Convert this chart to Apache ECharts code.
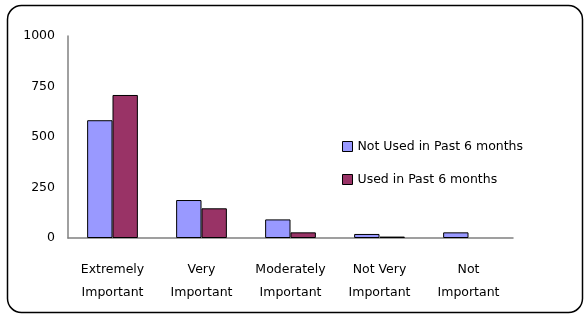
<!DOCTYPE html>
<html>
<head>
<meta charset="utf-8">
<script src="https://cdn.jsdelivr.net/npm/echarts@6/dist/echarts.min.js"></script>
<style>
  html, body { margin: 0; padding: 0; background: #fff; }
  #chart { width: 584px; height: 316px; }
</style>
</head>
<body>
<div id="chart"></div>
<script>
// importance ratings, two groups
const categories = ['Extremely\nImportant', 'Very\nImportant', 'Moderately\nImportant', 'Not Very\nImportant', 'Not\nImportant']
const notUsed = [583, 188, 92, 20, 28]
const used = [708, 147, 28, 7, 0]
const yTicks = [0, 250, 500, 750, 1000]

const font = 'DejaVu Sans'
const chart = echarts.init(document.getElementById('chart'))

// zero-height bars are not drawn at all in the original
const toBars = arr => arr.map(v => (v === 0 ? '-' : v))

chart.setOption({
  animation: false,
  textStyle: { fontFamily: font },
  graphic: [{
    type: 'rect',
    shape: { x: 7.5, y: 5.5, width: 575, height: 307, r: 14 },
    style: { fill: 'none', stroke: '#000', lineWidth: 1.5 }
  }],
  grid: { left: 68, top: 36, right: 71, bottom: 78 },
  legend: {
    orient: 'vertical',
    left: 337,
    top: 135,
    itemWidth: 10,
    itemHeight: 10,
    itemGap: 20,
    icon: 'rect',
    textStyle: { fontSize: 12.5, color: '#000', fontFamily: font },
    data: [
      { name: 'Not Used in Past 6 months', itemStyle: { borderColor: '#000', borderWidth: 1 } },
      { name: 'Used in Past 6 months', itemStyle: { borderColor: '#000', borderWidth: 1 } }
    ]
  },
  xAxis: {
    type: 'category',
    data: categories,
    axisLine: { lineStyle: { color: '#808080', width: 1.5 } },
    axisTick: { show: false },
    axisLabel: { color: '#000', fontSize: 12.5, lineHeight: 23, margin: 20, interval: 0 }
  },
  yAxis: {
    type: 'value',
    min: 0,
    max: yTicks[yTicks.length - 1],
    interval: yTicks[1] - yTicks[0],
    axisLine: { show: true, lineStyle: { color: '#808080', width: 1.5 } },
    axisTick: { show: false },
    splitLine: { show: false },
    axisLabel: { color: '#000', fontSize: 12.5, margin: 13, formatter: v => String(v) }
  },
  series: [
    {
      name: 'Not Used in Past 6 months',
      type: 'bar',
      data: toBars(notUsed),
      barGap: '0%',
      barCategoryGap: '43%',
      itemStyle: { color: '#9999FF', borderColor: '#000', borderWidth: 1 }
    },
    {
      name: 'Used in Past 6 months',
      type: 'bar',
      data: toBars(used),
      itemStyle: { color: '#993366', borderColor: '#000', borderWidth: 1 }
    }
  ]
})
</script>
</body>
</html>
